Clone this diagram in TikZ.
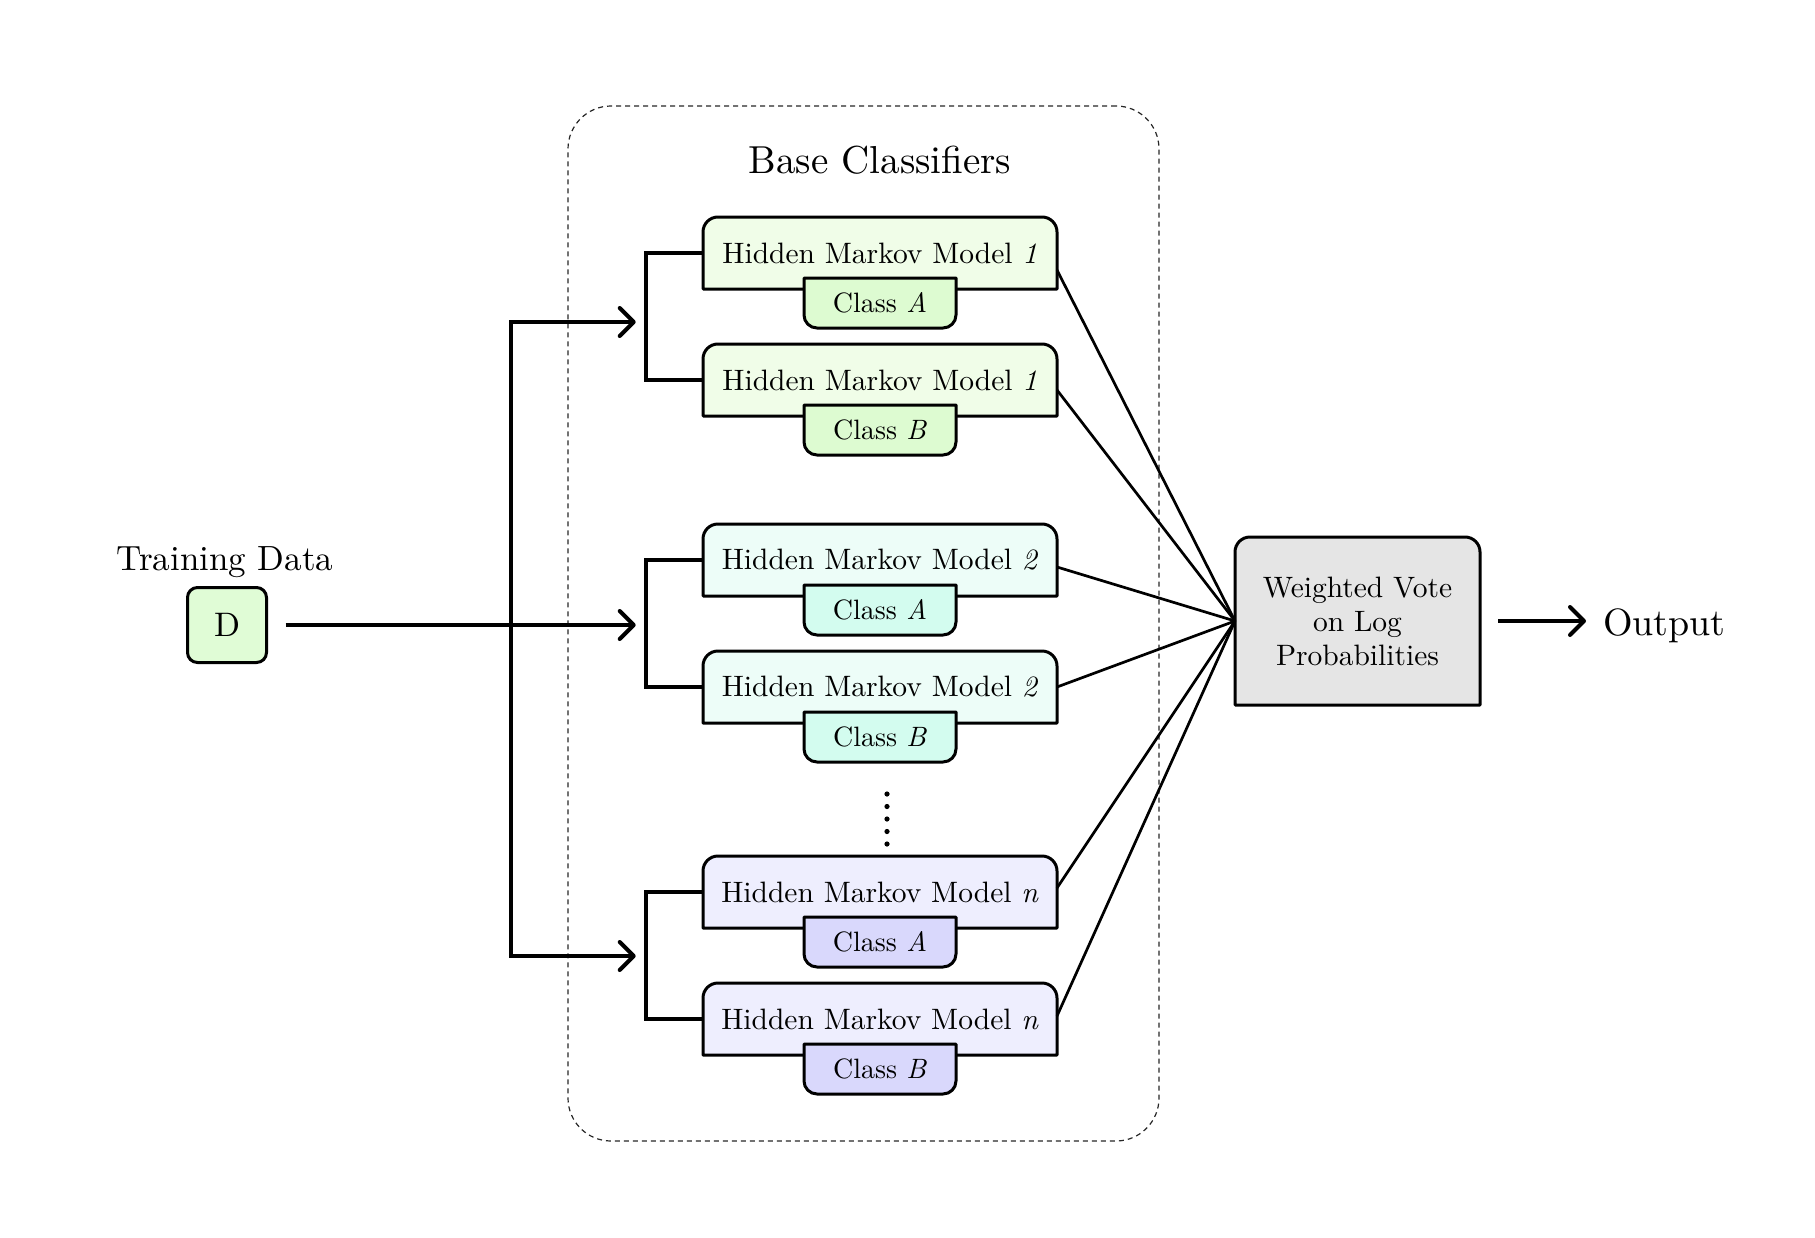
\documentclass[tikz,border=0pt]{standalone}
\usepackage{fontspec}
\setmainfont{lmroman10-regular.otf}[ItalicFont=lmroman10-italic.otf]
\usetikzlibrary{arrows.meta,backgrounds,calc}
\definecolor{hmmone}{HTML}{F0FDE8}
\definecolor{tabone}{HTML}{DDFBD1}
\definecolor{hmmtwo}{HTML}{EDFDF8}
\definecolor{tabtwo}{HTML}{D3FCEF}
\definecolor{hmmn}{HTML}{EEEEFE}
\definecolor{tabnn}{HTML}{D9D8FC}
\definecolor{dfill}{HTML}{E0FCD6}
\definecolor{votefill}{HTML}{E5E5E5}
\newcommand\hmmshape[2]{%
  \filldraw[boxline, fill=#2] (#1.south west) -- ([yshift=-15pt]#1.north west)
    .. controls ([yshift=-6.7pt]#1.north west) and ([xshift=6.7pt]#1.north west) .. ([xshift=15pt]#1.north west)
    -- ([xshift=-15pt]#1.north east)
    .. controls ([xshift=-6.7pt]#1.north east) and ([yshift=-6.7pt]#1.north east) .. ([yshift=-15pt]#1.north east)
    -- (#1.south east) -- cycle;}
\newcommand\tabshape[2]{%
  \filldraw[boxline, fill=#2] (#1.north west) -- ([yshift=13pt]#1.south west)
    .. controls ([yshift=5.8pt]#1.south west) and ([xshift=5.8pt]#1.south west) .. ([xshift=13pt]#1.south west)
    -- ([xshift=-13pt]#1.south east)
    .. controls ([xshift=-5.8pt]#1.south east) and ([yshift=5.8pt]#1.south east) .. ([yshift=13pt]#1.south east)
    -- (#1.north east) -- cycle;}
\tikzset{
  every node/.style={inner sep=0pt, outer sep=0pt},
  boxline/.style={line width=3pt, draw=black, line join=round},
  hmm/.style={minimum width=354pt, minimum height=72pt, font=\fontsize{29.5}{35}\selectfont},
  tabn/.style={minimum width=152pt, minimum height=50pt, font=\fontsize{28}{34}\selectfont},
  container/.style={draw=black!85, line width=1.2pt, dash pattern=on 5pt off 4pt, rounded corners=43pt,
    minimum width=591pt, minimum height=1035pt},
  titlef/.style={font=\fontsize{39}{46}\selectfont},
  trainf/.style={font=\fontsize{35}{42}\selectfont},
  dbox/.style={draw=black, line width=3pt, fill=dfill, rounded corners=10pt,
    minimum width=79pt, minimum height=75pt, font=\fontsize{34}{40}\selectfont},
  votef/.style={minimum width=245pt, minimum height=168pt, align=center, font=\fontsize{29.5}{34}\selectfont},
  outf/.style={font=\fontsize{38}{46}\selectfont},
  wire/.style={line width=4pt},
  arr/.style={wire, -{Straight Barb[length=14pt,width=28pt,round]}},
  vl/.style={line width=2.7pt},
  dotf/.style={fill=black},
}
\begin{document}
\begin{tikzpicture}[x=1pt,y=-1pt]
\useasboundingbox (0,0) rectangle (1815,1237);
\node[container] (bc) at (863.5,623.5) {};
\node[titlef, anchor=base] (title) at (880,173) {Base Classifiers};

\node[hmm] (h1a) at (880,253) {Hidden Markov Model \textit{1}};
\node[tabn] (t1a) at (880,303) {Class \textit{A}};
\node[hmm] (h1b) at (880,380) {Hidden Markov Model \textit{1}};
\node[tabn] (t1b) at (880,430) {Class \textit{B}};
\node[hmm] (h2a) at (880,560) {Hidden Markov Model \textit{2}};
\node[tabn] (t2a) at (880,610) {Class \textit{A}};
\node[hmm] (h2b) at (880,687) {Hidden Markov Model \textit{2}};
\node[tabn] (t2b) at (880,737) {Class \textit{B}};
\node[hmm] (hna) at (880,892) {Hidden Markov Model \textit{n}};
\node[tabn] (tna) at (880,942) {Class \textit{A}};
\node[hmm] (hnb) at (880,1019) {Hidden Markov Model \textit{n}};
\node[tabn] (tnb) at (880,1069) {Class \textit{B}};

\begin{pgfonlayer}{background}
\hmmshape{h1a}{hmmone}\tabshape{t1a}{tabone}
\hmmshape{h1b}{hmmone}\tabshape{t1b}{tabone}
\hmmshape{h2a}{hmmtwo}\tabshape{t2a}{tabtwo}
\hmmshape{h2b}{hmmtwo}\tabshape{t2b}{tabtwo}
\hmmshape{hna}{hmmn}\tabshape{tna}{tabnn}
\hmmshape{hnb}{hmmn}\tabshape{tnb}{tabnn}
\end{pgfonlayer}

\foreach \k in {0,...,4} \fill[dotf] (887,794+12.5*\k) circle (2.6pt);

\node[trainf, anchor=base] (train) at (225,570) {Training Data};
\node[dbox] (D) at (227,625) {D};

\node[votef] (vote) at (1357.5,621) {Weighted Vote\\on Log\\Probabilities};
\begin{pgfonlayer}{background}
\hmmshape{vote}{votefill}
\end{pgfonlayer}
\node[outf, anchor=base west] (out) at (1603,635) {Output};

\coordinate (b1) at (645.7,322);
\coordinate (b2) at (645.7,625);
\coordinate (bn) at (645.7,956);
\coordinate (j1) at (511,322);
\coordinate (jn) at (511,956);

\draw[wire] (h1a.west) -| (b1) |- (h1b.west);
\draw[wire] (h2a.west) -| (b2) |- (h2b.west);
\draw[wire] (hna.west) -| (bn) |- (hnb.west);

\draw[wire, {Straight Barb[length=14pt,width=28pt,round]}-{Straight Barb[length=14pt,width=28pt,round]},
  shorten <=10pt, shorten >=10pt] (b1) -- (j1) -- (jn) -- (bn);
\draw[arr, shorten <=19pt, shorten >=10pt] (D.east) -- (b2);

\draw[vl] ([yshift=-17pt]h1a.east) -- (vote.west);
\draw[vl] ([yshift=-10pt]h1b.east) -- (vote.west);
\draw[vl] ([yshift=-7pt]h2a.east) -- (vote.west);
\draw[vl] (h2b.east) -- (vote.west);
\draw[vl] ([yshift=4pt]hna.east) -- (vote.west);
\draw[vl] ([yshift=3pt]hnb.east) -- (vote.west);

\draw[arr, shorten <=18pt, shorten >=17pt] (vote.east) -- (vote.east -| out.west);
\end{tikzpicture}
\end{document}
